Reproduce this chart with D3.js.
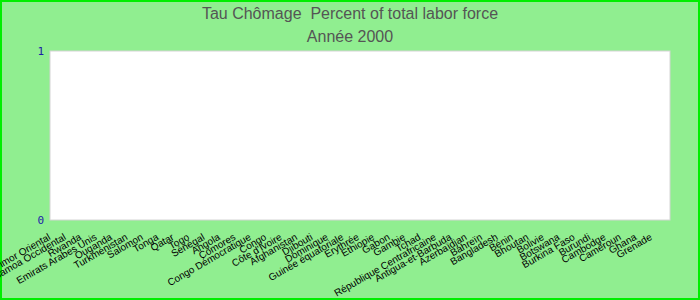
<!DOCTYPE html>
<html>
  <head>
    <meta charset="utf-8">
    <title>Tau Chômage</title>
    <script src="https://d3js.org/d3.v7.min.js"></script>
    <style>
      body { margin: 0; }
      .title { font-family: "Liberation Sans", Arial, sans-serif; font-size: 16px; fill: #555; white-space: pre; }
      .axis-y text { font-family: "DejaVu Sans Mono", monospace; font-size: 11px; fill: #1c1ca8; }
      .axis-x text { font-family: "Liberation Sans", Arial, sans-serif; font-size: 10px; fill: #000; }
    </style>
  </head>
  <body>
    <svg width="700" height="300"></svg>
    <script>
      var countries = ["Timor Oriental", "Samoa Occidental", "Rwanda", "Emirats Arabes Unis", "Ouganda",
        "Turkménistan", "Salomon", "Tonga", "Qatar", "Togo", "Sénégal", "Angola", "Comores",
        "Congo Démocratique", "Congo", "Côte d'Ivoire", "Afghanistan", "Djibouti", "Dominique",
        "Guinée équatoriale", "Erythrée", "Ethiopie", "Gabon", "Gambie", "Tchad",
        "République Centrafricaine", "Antigua-et-Barbuda", "Azerbaïdjan", "Bahreïn", "Bangladesh",
        "Bénin", "Bhoutan", "Bolivie", "Botswana", "Burkina Faso", "Burundi", "Cambodge",
        "Cameroun", "Ghana", "Grenade"];
      // no value is shown for 2000, every bar sits at zero
      var values = [0, 0, 0, 0, 0, 0, 0, 0, 0, 0, 0, 0, 0, 0, 0, 0, 0, 0, 0, 0,
                    0, 0, 0, 0, 0, 0, 0, 0, 0, 0, 0, 0, 0, 0, 0, 0, 0, 0, 0, 0];
      var yTicks = [0, 1];

      var margin = {top: 51, right: 30, bottom: 80, left: 50},
          width = 700 - margin.left - margin.right,
          height = 300 - margin.top - margin.bottom;

      var svg = d3.select("svg");

      svg.append("rect")
          .attr("x", 1).attr("y", 1)
          .attr("width", 698).attr("height", 298)
          .attr("fill", "#90ee90")
          .attr("stroke", "#00ee00")
          .attr("stroke-width", 2);

      svg.append("text").attr("class", "title")
          .attr("x", 350).attr("y", 19)
          .attr("text-anchor", "middle")
          .text("Tau Chômage  Percent of total labor force");
      svg.append("text").attr("class", "title")
          .attr("x", 350).attr("y", 42)
          .attr("text-anchor", "middle")
          .text("Année 2000");

      var g = svg.append("g")
          .attr("transform", "translate(" + margin.left + "," + margin.top + ")");

      g.append("rect")
          .attr("width", width).attr("height", height)
          .attr("fill", "#fff")
          .attr("stroke", "#d4d4d4");

      var x = d3.scaleBand()
          .range([0, width])
          .domain(countries)
          .padding(0.2);

      var y = d3.scaleLinear()
          .range([height, 0])
          .domain([0, 1]);

      g.append("g")
          .attr("class", "axis-y")
          .call(d3.axisLeft(y).tickValues(yTicks).tickSize(0).tickPadding(6).tickFormat(d3.format("d")))
          .call(function(s) { s.select(".domain").remove(); });

      g.append("g")
          .attr("class", "axis-x")
          .attr("transform", "translate(0," + height + ")")
          .call(d3.axisBottom(x).tickSize(0).tickPadding(0))
          .call(function(s) { s.select(".domain").remove(); })
          .selectAll("text")
            .style("text-anchor", "end")
            .attr("x", 0)
            .attr("y", 0)
            .attr("dy", "0")
            .attr("transform", "translate(-8,19) rotate(-30)");

      g.selectAll(".bar")
          .data(values)
          .enter().append("rect")
          .attr("class", "bar")
          .attr("fill", "steelblue")
          .attr("x", function(d, i) { return x(countries[i]); })
          .attr("width", x.bandwidth())
          .attr("y", function(d) { return y(d); })
          .attr("height", function(d) { return height - y(d); });
    </script>
  </body>
</html>
